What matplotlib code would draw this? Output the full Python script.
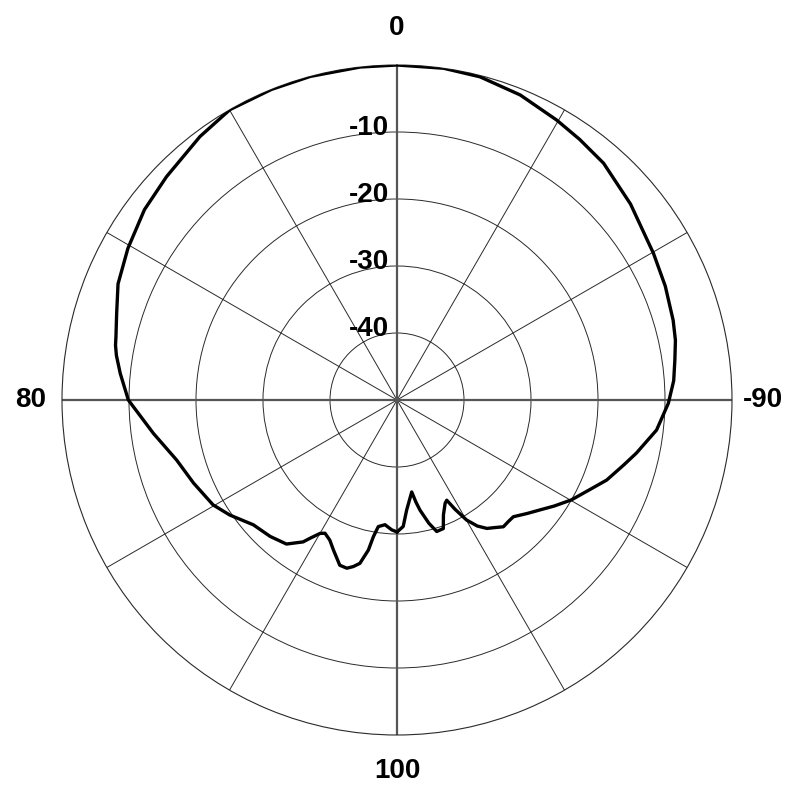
import numpy as np
import matplotlib
matplotlib.use("Agg")
import matplotlib.pyplot as plt

# measured pattern: angle in degrees (positive = left / counter-clockwise), gain in dB
angles = [
    -180, -177.2, -175, -172.5, -170.9, -169.5, -168.2, -165.5, -163.2, -160.2,
    -158, -155, -153.6, -152, -149.9, -147.5, -145, -142.5, -140, -137.5,
    -135.1, -131, -127.6, -124, -119.8, -115, -110.9, -106, -102.5, -96.6,
    -90.7, -86, -81.8, -77.9, -73.9, -67, -60.2, -58.8, -50, -41.1,
    -35, -29.7, -22, -14.4, -8, 0, 6.3, 15, 22, 29.9,
    36.8, 45.9, 53, 60.6, 67.4, 72.8, 77.3, 79, 81, 84.5, 90, 97.8,
    105.2, 112.2, 119.7, 124.5, 131, 137.1, 142.5, 146.5, 147.8, 150,
    151.6, 154.4, 157, 160.9, 163.4, 165.3, 167.2, 169.2, 170.2, 171.6,
    174.5, 177.7, 180,
]
gain_db = [
    -30.3, -31.1, -33.5, -35.2, -36.1, -34.5, -33.2, -31.0, -29.5, -29.6,
    -31.5, -33.0, -33.3, -31.5, -29.3, -27.7, -26.6, -26.0, -25.3, -25.4,
    -25.4, -24.2, -23.1, -21.7, -20.0, -18.3, -16.5, -14.8, -13.4, -11.0,
    -9.5, -8.6, -8.1, -7.5, -7.1, -6.5, -5.9, -5.8, -4.5, -3.1,
    -2.5, -1.9, -0.9, -0.2, 0.0, 0.0, 0.0, 0.0, 0.0, 0.0,
    -0.9, -2.1, -2.8, -3.9, -4.9, -6.2, -7.0, -7.2, -7.6, -8.5, -9.9, -13.3,
    -15.9, -17.2, -18.4, -19.7, -21.6, -22.2, -22.9, -24.6, -25.6, -27.0,
    -27.4, -26.8, -25.7, -23.9, -23.8, -24.3, -25.0, -27.2, -29.3, -30.9,
    -31.3, -30.6, -30.3,
]

ring_levels = [-40, -30, -20, -10]
ring_labels = ["-40", "-30", "-20", "-10"]
spoke_angles = list(range(0, 360, 30))
main_angles = [0, 90, 180, 270]
direction_labels = ["0", "80", "100", "-90"]

plt.rcParams['font.family'] = ['Liberation Sans', 'DejaVu Sans']

fig = plt.figure(figsize=(7.95, 7.98), dpi=100)
ax = fig.add_axes([62 / 795, 63 / 798, 670 / 795, 670 / 798], projection='polar')
ax.set_theta_zero_location('N')
ax.set_theta_direction(1)
ax.set_rlim(-50, 0)

# grid
ax.set_rticks(ring_levels)
ax.set_yticklabels([])
ax.set_xticks(np.deg2rad(spoke_angles))
ax.set_xticklabels([])
ax.grid(True, color='#2a2a2a', linewidth=0.7)
ax.spines['polar'].set_color('#2a2a2a')
ax.spines['polar'].set_linewidth(0.8)

# main cross lines are a bit heavier
for a in main_angles:
    ax.plot([np.deg2rad(a)] * 2, [-50, 0], color='#555555', linewidth=1.6, zorder=2)

# pattern
ax.plot(np.deg2rad(angles), gain_db, color='black', linewidth=2.4, zorder=4)

# ring labels along the top spoke
for lvl, lab in zip(ring_levels, ring_labels):
    ax.annotate(lab, xy=(0, lvl), xytext=(-6, 3), textcoords='offset points',
                ha='right', va='center', fontsize=20, fontweight='bold')

# direction labels outside the circle
ax.text(np.deg2rad(0), 5.5, direction_labels[0], ha='center', va='center',
        fontsize=20, fontweight='bold')
ax.text(np.deg2rad(90), 2.4, direction_labels[1], ha='right', va='center',
        fontsize=20, fontweight='bold')
ax.text(np.deg2rad(180), 5.4, direction_labels[2], ha='center', va='center',
        fontsize=20, fontweight='bold')
ax.text(np.deg2rad(270), 1.6, direction_labels[3], ha='left', va='center',
        fontsize=20, fontweight='bold')

fig.savefig('out.png', dpi=100)
